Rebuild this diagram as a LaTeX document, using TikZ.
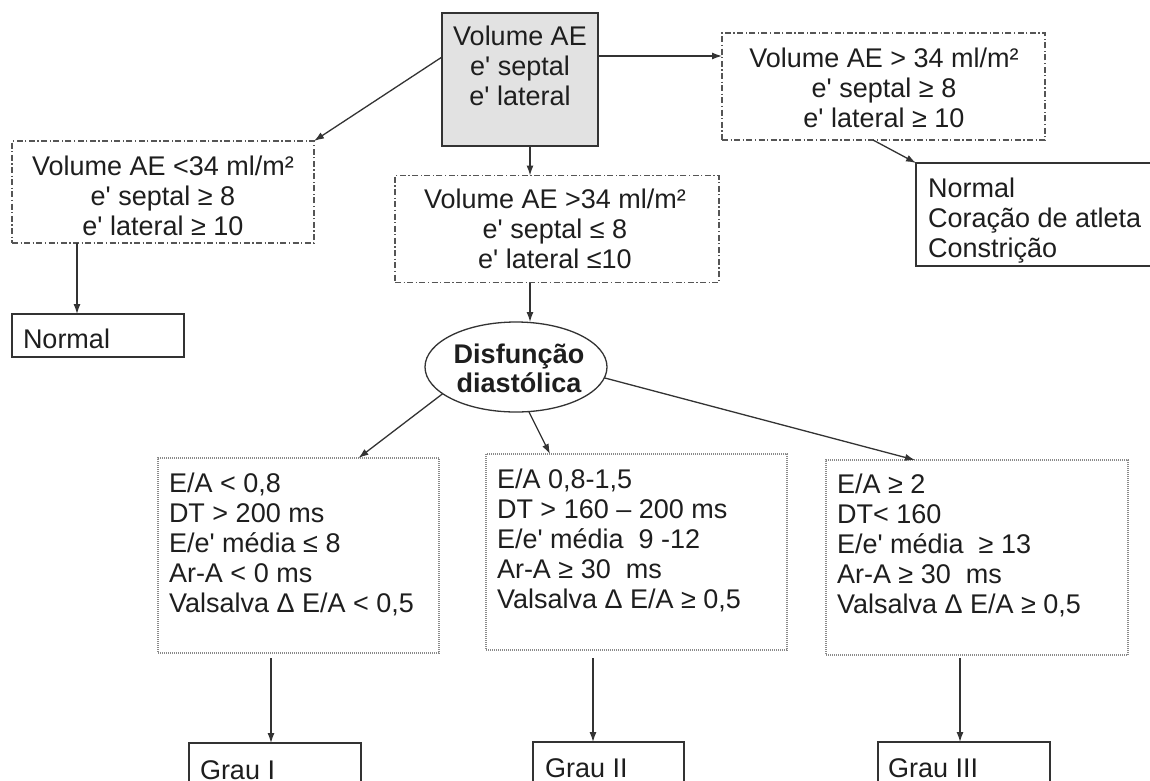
\documentclass[tikz,border=0pt]{standalone}
\usepackage{fontspec}
\setmainfont{Liberation Sans}[Ligatures=TeXOff]
\usetikzlibrary{shapes.geometric,arrows.meta}

\definecolor{linegray}{HTML}{333333}
\definecolor{boxgray}{HTML}{E2E2E2}
\definecolor{dashgray}{HTML}{555555}
\definecolor{dotgray}{HTML}{8A8A8A}
\definecolor{ink}{HTML}{1E1E1E}

% text nodes are placed by the baseline of their last line
\tikzset{
  every node/.style={inner sep=0pt, outer sep=0pt, text=ink},
  txt/.style={font=\fontsize{27}{30}\selectfont, anchor=base, align=center},
  txtl/.style={font=\fontsize{27}{30}\selectfont, anchor=base west, align=left},
  frame/.style={rectangle, draw=linegray, line width=1.3pt},
  startbox/.style={frame, fill=boxgray},
  condbox/.style={rectangle, draw=dashgray, line width=1.2pt,
    dash pattern=on 6pt off 2.5pt on 1.2pt off 2.5pt},
  gradebox/.style={rectangle, draw=dotgray, line width=1.1pt,
    dash pattern=on 1pt off 1pt},
  arr/.style={draw=linegray, line width=1.3pt,
    -{Latex[length=10pt,width=7pt]}},
}

\begin{document}
\begin{tikzpicture}[x=1pt, y=-1pt]
\useasboundingbox (0,0) rectangle (1150,780);
\clip (0,0) rectangle (1150,780);
\fill[white] (0,0) rectangle (1150,780);

% initial measurement box
\node[startbox, minimum width=156pt, minimum height=133pt] (top) at (520,79.5) {};
\node[txt] (topt) at (520,105) {Volume AE\\e' septal\\e' lateral};

% first-level criteria
\node[condbox, minimum width=302pt, minimum height=102pt] (lbox) at (163,192) {};
\node[txt] (lboxt) at (163,235) {Volume AE <34 ml/m²\\e' septal ≥ 8\\e' lateral ≥ 10};

\node[condbox, minimum width=324pt, minimum height=107pt] (mbox) at (557,229) {};
\node[txt] (mboxt) at (555,268) {Volume AE >34 ml/m²\\e' septal ≤ 8\\e' lateral ≤10};

\node[condbox, minimum width=323pt, minimum height=107pt] (rbox) at (883.5,86.5) {};
\node[txt] (rboxt) at (884,127) {Volume AE > 34 ml/m²\\e' septal ≥ 8\\e' lateral ≥ 10};

% outcomes of the first level
\node[frame, minimum width=172pt, minimum height=43pt] (lnorm) at (98,335.5) {};
\node[txtl] (lnormt) at (23,348) {Normal};

\node[frame, minimum width=250pt, minimum height=103pt] (rnorm) at (1041,214.5) {};
\node[txtl] (rnormt) at (928,257) {Normal\\Coração de atleta\\Constrição};

% diastolic dysfunction
\node[ellipse, draw=linegray, line width=1.3pt, minimum width=182pt, minimum height=90pt] (ell) at (516,367) {};
\node[txt, font=\fontsize{27}{29}\selectfont\bfseries] (ellt) at (519,392) {Disfunção\\diastólica};

% grading criteria
\node[gradebox, minimum width=281pt, minimum height=195pt] (g1) at (298.5,555.5) {};
\node[txtl] (g1t) at (169,612) {E/A < 0,8\\DT > 200 ms\\E/e' média ≤ 8\\Ar-A < 0 ms\\Valsalva Δ E/A < 0,5};

\node[gradebox, minimum width=301pt, minimum height=196pt] (g2) at (636.5,552) {};
\node[txtl] (g2t) at (497,608) {E/A 0,8-1,5\\DT > 160 – 200 ms\\E/e' média~ 9 -12\\Ar-A ≥ 30~ ms\\Valsalva Δ E/A ≥ 0,5};

\node[gradebox, minimum width=302pt, minimum height=195pt] (g3) at (977,557.5) {};
\node[txtl] (g3t) at (837,613) {E/A ≥ 2\\DT< 160\\E/e' média~ ≥ 13\\Ar-A ≥ 30~ ms\\Valsalva Δ E/A ≥ 0,5};

% grades
\node[frame, minimum width=172pt, minimum height=60pt] (gr1) at (275,773) {};
\node[txtl] (gr1t) at (200,779) {Grau I};
\node[frame, minimum width=151pt, minimum height=60pt] (gr2) at (608.5,772) {};
\node[txtl] (gr2t) at (545,777) {Grau II};
\node[frame, minimum width=172pt, minimum height=60pt] (gr3) at (964,772) {};
\node[txtl] (gr3t) at (888,777) {Grau III};

% connectors
\draw[arr] ([yshift=-44pt]top.north west) -- (lbox.north east);
\draw[arr] ([yshift=-43pt]top.north east) coordinate (te) -- (te -| rbox.west);
\draw[arr] ([xshift=10pt]top.south) coordinate (tb) -- (tb |- mbox.north);
\draw[arr] ([xshift=-27pt]mbox.south) coordinate (mb) -- (mb |- ell.north);
\draw[arr] ([xshift=-10.5pt]rbox.south) -- (rnorm.north west);
\draw[arr] ([xshift=-86pt]lbox.south) coordinate (lb) -- (lb |- lnorm.north);
\draw[arr] (ell.200) -- ([xshift=60pt]g1.north);
\draw[arr] (ell.286) -- ([xshift=-86.5pt]g2.north);
\draw[arr] (ell.353) -- ([xshift=-62pt]g3.north);
\draw[arr] ([xshift=-27.5pt,yshift=-5pt]g1.south) coordinate (g1b) -- (g1b |- gr1.north);
\draw[arr] ([xshift=-43.5pt,yshift=-8pt]g2.south) coordinate (g2b) -- (g2b |- gr2.north);
\draw[arr] ([xshift=-17pt,yshift=-3pt]g3.south) coordinate (g3b) -- (g3b |- gr3.north);
\end{tikzpicture}
\end{document}
